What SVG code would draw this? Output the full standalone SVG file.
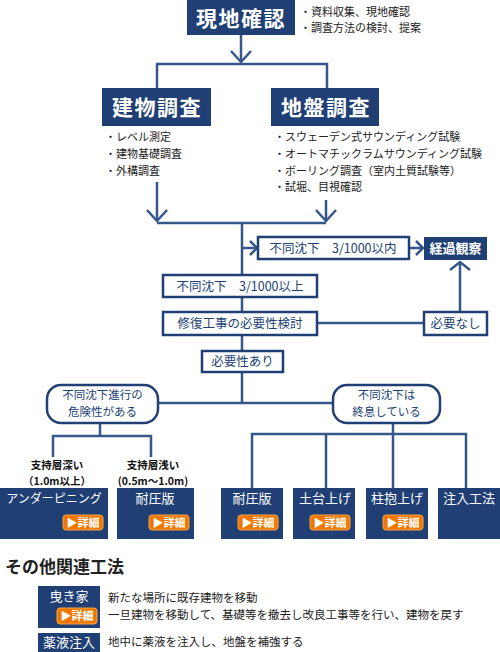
<svg xmlns="http://www.w3.org/2000/svg" width="500" height="652" viewBox="0 0 500 652">
<defs>
<style>
text{font-family:"Noto Sans CJK JP","Noto Sans",sans-serif}
.line{fill:none;stroke:#355789;stroke-width:2.5}
.dark{fill:#203f74}
.ob{fill:#fff;stroke:#203f74;stroke-width:2.5}
.h1{font-size:21px;font-weight:bold;fill:#fff;text-anchor:middle;letter-spacing:1.5px}
.bul{font-size:11px;fill:#222}
.lab{font-size:12.5px;fill:#203f74;text-anchor:middle}
.lab2{font-size:11.5px;fill:#203f74;text-anchor:middle}
.wl{font-size:13px;fill:#fff;text-anchor:middle}
.wb{font-size:13px;fill:#fff;text-anchor:middle;font-weight:bold}
.sup{font-size:10.5px;fill:#111;text-anchor:middle;font-weight:bold}
.btn{fill:#ef7700;stroke:#f6a54c;stroke-width:1}
.bt{font-size:11px;fill:#fff;font-weight:bold;text-anchor:middle}
.desc{font-size:11.5px;fill:#222}
</style>
<marker id="ab" markerUnits="userSpaceOnUse" viewBox="-13 -12 15 24" refX="0" refY="0" markerWidth="15" markerHeight="24" orient="auto">
<path d="M-11,-10 L0,0 L-11,10" fill="none" stroke="#355789" stroke-width="2.5"/>
</marker>
<marker id="as" markerUnits="userSpaceOnUse" viewBox="-9 -9 11 18" refX="0" refY="0" markerWidth="11" markerHeight="18" orient="auto">
<path d="M-7,-7 L0,0 L-7,7" fill="none" stroke="#355789" stroke-width="2.5"/>
</marker>
<marker id="au" markerUnits="userSpaceOnUse" viewBox="-10 -12 12 24" refX="0" refY="0" markerWidth="12" markerHeight="24" orient="auto">
<path d="M-8,-10 L0,0 L-8,10" fill="none" stroke="#355789" stroke-width="2.5"/>
</marker>
</defs>
<rect width="500" height="652" fill="#fff"/>

<g id="connectors">
<line class="line" x1="241" y1="35" x2="241" y2="62" marker-end="url(#ab)"/>
<path class="line" d="M157,90 V64 H327 V90"/>
<line class="line" x1="157" y1="182" x2="157" y2="221" marker-end="url(#ab)"/>
<line class="line" x1="326" y1="200" x2="326" y2="221" marker-end="url(#ab)"/>
<path class="line" d="M157,223 H326"/>
<path class="line" d="M242,223 V352"/>
<line class="line" x1="242" y1="248" x2="257" y2="248" marker-end="url(#as)"/>
<line class="line" x1="409" y1="248" x2="423" y2="248" marker-end="url(#as)"/>
<path class="line" d="M317,323 H424"/>
<line class="line" x1="460" y1="312" x2="460" y2="262" marker-end="url(#au)"/>
<path class="line" d="M242,372 V403 M158,403 H333"/>
<path class="line" d="M100,423 V436 M53,457 V436 H151 V457"/>
<path class="line" d="M393,423 V434 M252,488 V434 H466 V488 M326,434 V488 M393,434 V488"/>
</g>

<g id="genchi">
<rect class="dark" x="187" y="0" width="108" height="35"/>
<text class="h1" x="241" y="26">現地確認</text>
<text class="bul" x="300" y="16">・資料収集、現地確認</text>
<text class="bul" x="300" y="32">・調査方法の検討、提案</text>
</g>

<g id="tatemono">
<rect class="dark" x="102" y="88" width="109" height="38"/>
<text class="h1" x="157" y="115">建物調査</text>
<text class="bul" x="105" y="141">・レベル測定</text>
<text class="bul" x="105" y="158">・建物基礎調査</text>
<text class="bul" x="105" y="175">・外構調査</text>
</g>

<g id="jiban">
<rect class="dark" x="271" y="88" width="108" height="38"/>
<text class="h1" x="326" y="115">地盤調査</text>
<text class="bul" x="274" y="141">・スウェーデン式サウンディング試験</text>
<text class="bul" x="274" y="158">・オートマチックラムサウンディング試験</text>
<text class="bul" x="274" y="175">・ボーリング調査（室内土質試験等）</text>
<text class="bul" x="274" y="191">・試堀、目視確認</text>
</g>

<g id="nai">
<rect class="ob" x="258" y="237" width="151" height="22"/>
<text class="lab" x="333" y="253">不同沈下　3/1000以内</text>
</g>
<g id="keika">
<rect class="dark" x="424" y="237" width="63" height="23"/>
<text class="wb" x="455.5" y="253">経過観察</text>
</g>
<g id="ijou">
<rect class="ob" x="163" y="275" width="154" height="22"/>
<text class="lab" x="240" y="291">不同沈下　3/1000以上</text>
</g>
<g id="kentou">
<rect class="ob" x="163" y="312" width="154" height="23"/>
<text class="lab" x="240" y="328">修復工事の必要性検討</text>
</g>
<g id="hitsuyounashi">
<rect class="ob" x="424" y="312" width="63" height="23"/>
<text class="lab" x="455.5" y="328">必要なし</text>
</g>
<g id="hitsuyouari">
<rect class="ob" x="202" y="351" width="81" height="21"/>
<text class="lab" x="242.5" y="366">必要性あり</text>
</g>

<g id="kiken">
<rect class="ob" x="47" y="385" width="111" height="38" rx="14"/>
<text class="lab2" x="102.5" y="399">不同沈下進行の</text>
<text class="lab2" x="102.5" y="416">危険性がある</text>
</g>
<g id="shuusoku">
<rect class="ob" x="333" y="385" width="107" height="38" rx="14"/>
<text class="lab2" x="386.5" y="399">不同沈下は</text>
<text class="lab2" x="386.5" y="416">終息している</text>
</g>

<g id="labels">
<text class="sup" x="57" y="469">支持層深い</text>
<text class="sup" x="57" y="485">（1.0m以上）</text>
<text class="sup" x="153" y="469">支持層浅い</text>
<text class="sup" x="153" y="485">(0.5m～1.0m)</text>
</g>

<g id="underpinning">
<rect class="dark" x="0" y="488" width="108" height="51"/>
<text class="wl" x="54" y="503" style="font-size:12px">アンダーピニング</text>
<rect class="btn" x="63" y="515" width="40" height="15" rx="3"/>
<text class="bt" x="83" y="527">▶詳細</text>
</g>
<g id="taiatsu1">
<rect class="dark" x="117" y="488" width="77" height="51"/>
<text class="wl" x="155" y="503">耐圧版</text>
<rect class="btn" x="149" y="515" width="40" height="15" rx="3"/>
<text class="bt" x="169" y="527">▶詳細</text>
</g>
<g id="taiatsu2">
<rect class="dark" x="221" y="488" width="62" height="51"/>
<text class="wl" x="252" y="503">耐圧版</text>
<rect class="btn" x="238" y="515" width="40" height="15" rx="3"/>
<text class="bt" x="258" y="527">▶詳細</text>
</g>
<g id="dodai">
<rect class="dark" x="293" y="488" width="62" height="51"/>
<text class="wl" x="325" y="503">土台上げ</text>
<rect class="btn" x="310" y="515" width="40" height="15" rx="3"/>
<text class="bt" x="330" y="527">▶詳細</text>
</g>
<g id="hashira">
<rect class="dark" x="366" y="488" width="62" height="51"/>
<text class="wl" x="397" y="503">柱抱上げ</text>
<rect class="btn" x="383" y="515" width="40" height="15" rx="3"/>
<text class="bt" x="403" y="527">▶詳細</text>
</g>
<g id="chuunyuu">
<rect class="dark" x="438" y="488" width="62" height="51"/>
<text class="wl" x="469" y="503">注入工法</text>
</g>

<g id="sonota">
<text x="5" y="573" style="font-size:17px;font-weight:bold;fill:#222">その他関連工法</text>
</g>
<g id="hikiya">
<rect class="dark" x="38" y="586" width="62" height="42"/>
<text class="wl" x="69" y="601">曳き家</text>
<rect class="btn" x="57" y="608" width="40" height="16" rx="3"/>
<text class="bt" x="77" y="620">▶詳細</text>
<text class="desc" x="108" y="602">新たな場所に既存建物を移動</text>
<text class="desc" x="108" y="619">一旦建物を移動して、基礎等を撤去し改良工事等を行い、建物を戻す</text>
</g>
<g id="yakueki">
<rect class="dark" x="38" y="633" width="62" height="19"/>
<text class="wl" x="69" y="647">薬液注入</text>
<text class="desc" x="108" y="646">地中に薬液を注入し、地盤を補強する</text>
</g>
</svg>
